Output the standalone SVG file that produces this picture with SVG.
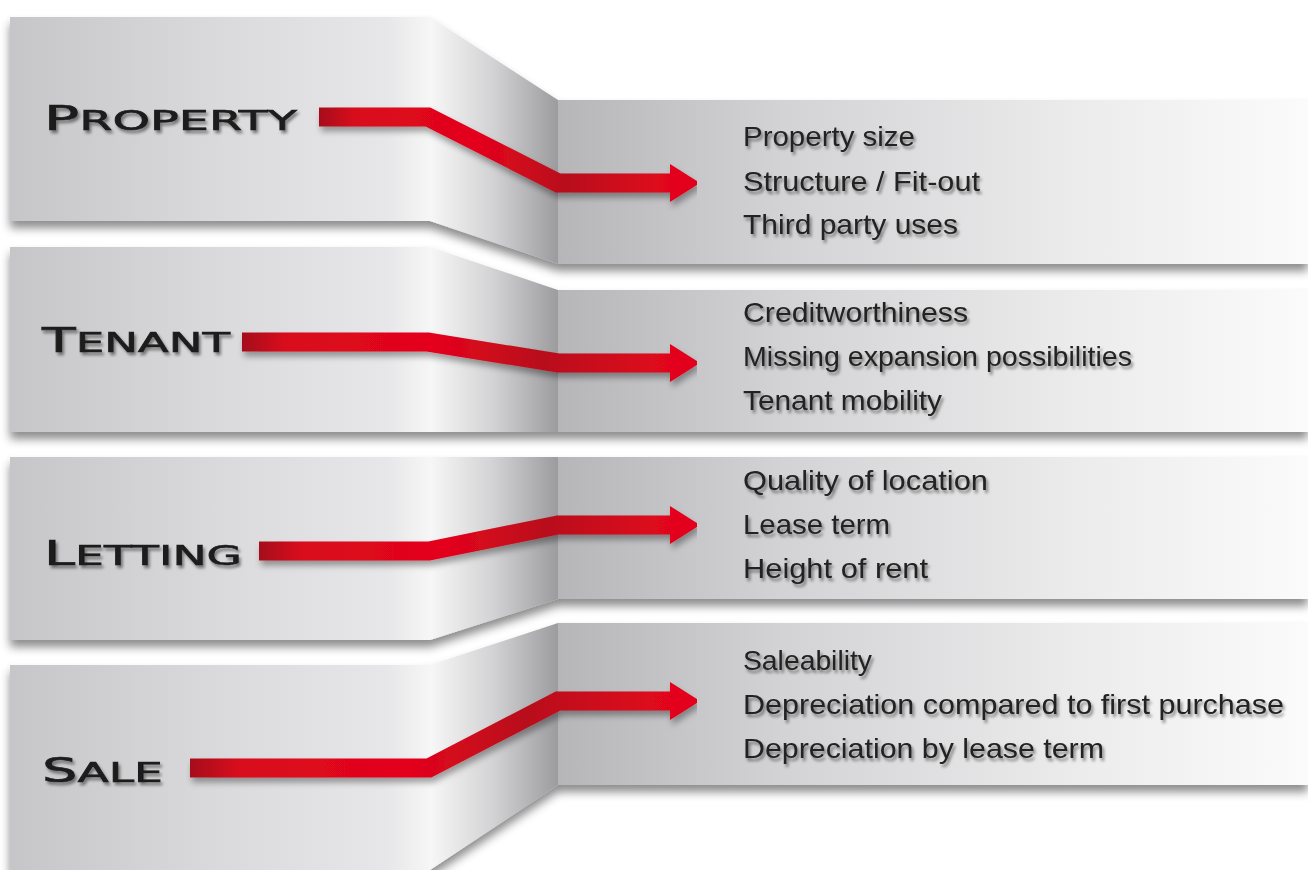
<svg xmlns="http://www.w3.org/2000/svg" width="1308" height="870" viewBox="0 0 1308 870">
<defs>
<linearGradient id="gLeft" gradientUnits="userSpaceOnUse" x1="10" y1="0" x2="430" y2="0">
<stop offset="0" stop-color="#c6c6c8"/>
<stop offset="0.5" stop-color="#dadadc"/>
<stop offset="0.9" stop-color="#e7e7e9"/>
<stop offset="1" stop-color="#f6f6f6"/>
</linearGradient>
<linearGradient id="gSide" gradientUnits="userSpaceOnUse" x1="430" y1="0" x2="558" y2="0">
<stop offset="0" stop-color="#f7f7f7"/>
<stop offset="0.5" stop-color="#d2d2d4"/>
<stop offset="1" stop-color="#9c9c9f"/>
</linearGradient>
<linearGradient id="gRight" gradientUnits="userSpaceOnUse" x1="558" y1="0" x2="1308" y2="0">
<stop offset="0" stop-color="#b6b6b9"/>
<stop offset="0.3" stop-color="#d3d3d5"/>
<stop offset="0.7" stop-color="#ececed"/>
<stop offset="1" stop-color="#fbfbfb"/>
</linearGradient>
<linearGradient id="gArrow" x1="0" y1="0" x2="1" y2="0">
<stop offset="0" stop-color="#a50f1c"/>
<stop offset="0.1" stop-color="#d80a1c"/>
<stop offset="0.45" stop-color="#e4041a"/>
<stop offset="0.7" stop-color="#b80d1b"/>
<stop offset="0.8" stop-color="#c70b1b"/>
<stop offset="1" stop-color="#e3061a"/>
</linearGradient>
<filter id="fBand" x="-5%" y="-10%" width="110%" height="130%">
<feDropShadow dx="0" dy="7" stdDeviation="5" flood-color="#000" flood-opacity="0.45"/>
</filter>
<filter id="fArrow" x="-5%" y="-20%" width="110%" height="160%">
<feDropShadow dx="2" dy="5" stdDeviation="3" flood-color="#000" flood-opacity="0.35"/>
</filter>
<filter id="fText" x="-5%" y="-20%" width="115%" height="160%">
<feDropShadow dx="2" dy="3" stdDeviation="1.6" flood-color="#000" flood-opacity="0.45"/>
</filter>
<marker id="head" markerUnits="userSpaceOnUse" markerWidth="32" markerHeight="42" refX="2" refY="21" orient="auto">
<path d="M0,2 L30,21 L0,40 Z" fill="#e3061a"/>
</marker>
</defs>
<style>
.lf{fill:url(#gLeft)}
.sd{fill:url(#gSide)}
.rt{fill:url(#gRight)}
.band{filter:url(#fBand)}
.lbl{font-family:"DejaVu Sans","Liberation Sans",sans-serif;fill:#1b1b1b;stroke:#1b1b1b;stroke-width:0.6;filter:url(#fText)}
.big{font-size:33px}
.sm{font-size:27px}
.item{font-family:"Liberation Sans","DejaVu Sans",sans-serif;font-size:28px;fill:#222;filter:url(#fText)}
.arr{fill:none;stroke:url(#gArrow);stroke-width:19;stroke-linejoin:miter;marker-end:url(#head)}
</style>
<rect width="1308" height="870" fill="#ffffff"/>

<g id="sale" class="band">
<polygon class="lf" points="10,665 430,665 430,870 10,870"/>
<polygon class="sd" points="430,665 558,623 558,785 430,870"/>
<polygon class="rt" points="558,623 1308,623 1308,785 558,785"/>
</g>
<g id="letting" class="band">
<polygon class="lf" points="10,457 430,457 430,640 10,640"/>
<polygon class="sd" points="430,457 558,457 558,599 430,640"/>
<polygon class="rt" points="558,457 1308,457 1308,599 558,599"/>
</g>
<g id="tenant" class="band">
<polygon class="lf" points="10,247 430,247 430,432 10,432"/>
<polygon class="sd" points="430,247 558,290 558,432 430,432"/>
<polygon class="rt" points="558,290 1308,290 1308,432 558,432"/>
</g>
<g id="property" class="band">
<polygon class="lf" points="10,17 430,17 430,221 10,221"/>
<polygon class="sd" points="430,17 558,100 558,264 430,221"/>
<polygon class="rt" points="558,100 1308,100 1308,264 558,264"/>
</g>

<g id="labels">
<text class="lbl" x="44" y="130" textLength="253" lengthAdjust="spacingAndGlyphs"><tspan class="big">P</tspan><tspan class="sm">ROPERTY</tspan></text>
<text class="lbl" x="42" y="352" textLength="188" lengthAdjust="spacingAndGlyphs"><tspan class="big">T</tspan><tspan class="sm">ENANT</tspan></text>
<text class="lbl" x="44" y="565" textLength="198" lengthAdjust="spacingAndGlyphs"><tspan class="big">L</tspan><tspan class="sm">ETTING</tspan></text>
<text class="lbl" x="42" y="782" textLength="121" lengthAdjust="spacingAndGlyphs"><tspan class="big">S</tspan><tspan class="sm">ALE</tspan></text>
</g>

<g id="connectors" filter="url(#fArrow)">
<path class="arr" d="M319,117 L428,117 L558,183 L672,183"/>
<path class="arr" d="M242,342 L428,342 L558,363 L672,363"/>
<path class="arr" d="M259,551 L429,551 L558,525 L672,525"/>
<path class="arr" d="M190,768 L429,768 L558,701 L672,701"/>
</g>

<g id="property-items">
<text class="item" x="743" y="146" textLength="172" lengthAdjust="spacingAndGlyphs">Property size</text>
<text class="item" x="743" y="191" textLength="237" lengthAdjust="spacingAndGlyphs">Structure / Fit-out</text>
<text class="item" x="743" y="234" textLength="215" lengthAdjust="spacingAndGlyphs">Third party uses</text>
</g>
<g id="tenant-items">
<text class="item" x="743" y="322" textLength="225" lengthAdjust="spacingAndGlyphs">Creditworthiness</text>
<text class="item" x="743" y="366" textLength="389" lengthAdjust="spacingAndGlyphs">Missing expansion possibilities</text>
<text class="item" x="743" y="410" textLength="199" lengthAdjust="spacingAndGlyphs">Tenant mobility</text>
</g>
<g id="letting-items">
<text class="item" x="743" y="490" textLength="245" lengthAdjust="spacingAndGlyphs">Quality of location</text>
<text class="item" x="743" y="534" textLength="147" lengthAdjust="spacingAndGlyphs">Lease term</text>
<text class="item" x="743" y="578" textLength="185" lengthAdjust="spacingAndGlyphs">Height of rent</text>
</g>
<g id="sale-items">
<text class="item" x="743" y="670" textLength="129" lengthAdjust="spacingAndGlyphs">Saleability</text>
<text class="item" x="743" y="714" textLength="541" lengthAdjust="spacingAndGlyphs">Depreciation compared to first purchase</text>
<text class="item" x="743" y="758" textLength="361" lengthAdjust="spacingAndGlyphs">Depreciation by lease term</text>
</g>
</svg>
